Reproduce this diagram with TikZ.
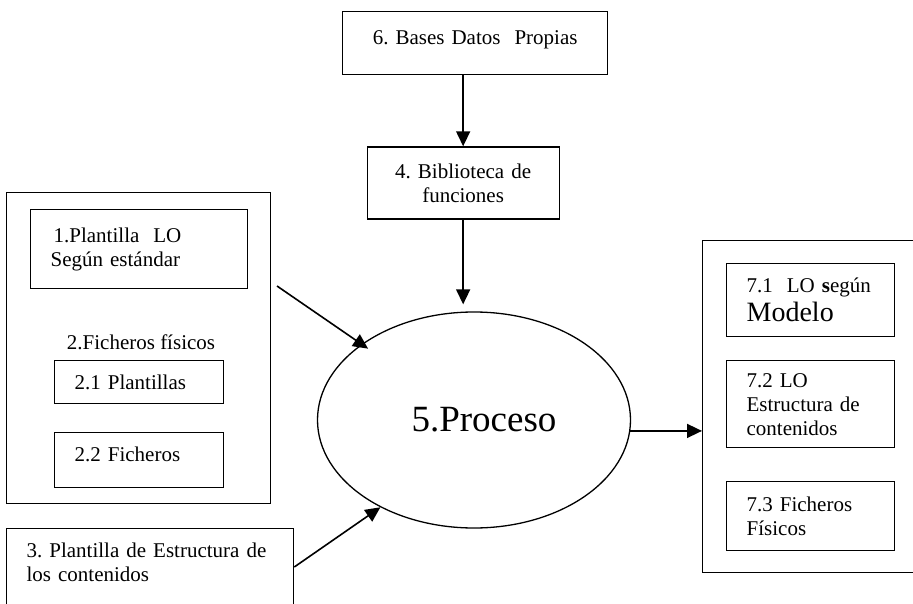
\documentclass[tikz,border=0pt]{standalone}
\usepackage{fontspec}
\setmainfont{Liberation Serif}
\usetikzlibrary{shapes,arrows.meta,positioning}
\frenchspacing

\begin{document}
\begin{tikzpicture}[x=1pt, y=-1pt, line width=1.3pt,
font=\fontsize{21}{24}\selectfont,
box/.style={draw, rectangle, align=left, inner xsep=20pt, inner ysep=0pt},
flow/.style={-{Triangle[length=15pt,width=14pt]}, line width=1.6pt}]

\useasboundingbox (0,0) rectangle (913,604);

\node [box, anchor=north west, text width=225pt, minimum height=63pt, align=center, text depth=12pt] (bases) at (342,11) {6. Bases Datos~ Propias};
\node [box, text width=152pt, minimum height=72pt, align=center] (lib) [below=71pt of bases, xshift=-12pt] {4. Biblioteca de\\ funciones};
\node [ellipse, draw, minimum width=313pt, minimum height=216pt, font=\fontsize{37}{40}\selectfont] (proc) at (474,420) {\hspace*{20pt}5.Proceso};

% entradas
\node [box, anchor=north west, minimum width=264pt, minimum height=311pt] (files) at (6,192) {};
\node [box, anchor=north west, text width=177pt, minimum height=79pt] (tpl) at (30,209) {\hspace*{3pt}1.Plantilla~ LO\\Según estándar};
\node (phys) at (141,342) {2.Ficheros físicos};
\node [box, anchor=north west, text width=129pt, minimum height=43pt] (tpls) at (54,360) {2.1 Plantillas};
\node [box, anchor=north west, text width=129pt, minimum height=55pt, text depth=11pt] (fich) at (54,432) {2.2 Ficheros};
\node [box, anchor=north west, text width=247pt, inner ysep=14pt, text depth=80pt] (struct) at (6,528) {3. Plantilla de Estructura de\\los contenidos};

% salidas
\node [box, anchor=north west, minimum width=240pt, minimum height=332pt] (out) at (702,240) {};
\node [box, anchor=north west, text width=128pt, minimum height=73pt] (lo) at (726,263) {7.1~ LO \textbf{s}egún\\[5pt]{\fontsize{28}{30}\selectfont Modelo}};
\node [box, anchor=north west, text width=128pt, minimum height=87pt] (lostr) at (726,360) {7.2 LO\\Estructura de\\contenidos};
\node [box, anchor=north west, text width=128pt, minimum height=69pt] (lofis) at (726,481) {7.3 Ficheros\\Físicos};

\coordinate (top) at ([yshift=7pt]proc.north);
\coordinate (fout) at (277,286);
\coordinate (sout) at ([yshift=-39pt]struct.north east);

\draw [flow] (bases.south -| lib.north) -- (lib.north);
\draw [flow] (lib.south) -- (lib.south |- top);
\draw [flow, shorten >=-8pt] (fout) -- (proc.146);
\draw [flow] (sout) -- (proc.223);
\draw [flow] (proc.-4) -- (proc.-4 -| out.west);

\end{tikzpicture}
\end{document}
